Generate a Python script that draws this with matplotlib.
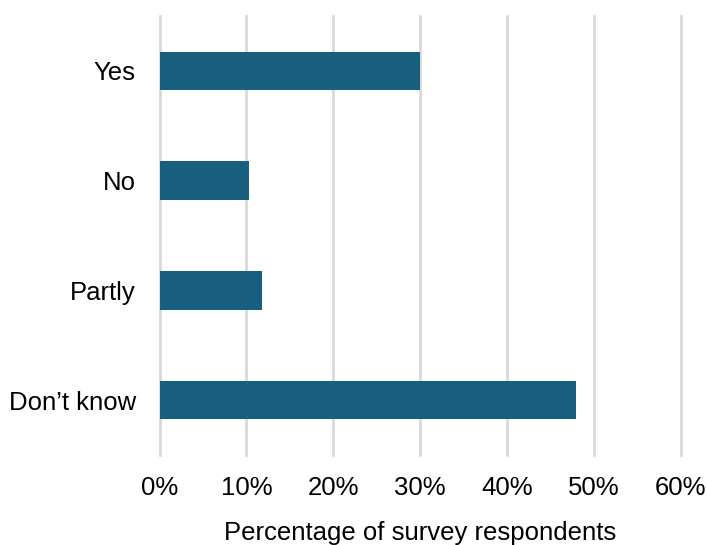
import matplotlib
matplotlib.use("Agg")
import matplotlib.pyplot as plt
from matplotlib.ticker import FuncFormatter

plt.rcParams['font.family'] = ['Liberation Sans', 'DejaVu Sans']

categories = ["Yes", "No", "Partly", "Don\u2019t know"]
values = [30.0, 10.3, 11.8, 48.0]
xticks = [0, 10, 20, 30, 40, 50, 60]
bar_color = "#175E7F"

fig = plt.figure(figsize=(7.07, 5.45), dpi=100)
ax = fig.add_axes([159.5/707, 1-455/545, (680.7-159.5)/707, (455-16)/545])

ypos = list(range(len(categories)))
ax.barh(ypos, values, height=0.35, color=bar_color, zorder=3)
ax.set_yticks(ypos)
ax.set_yticklabels(categories)
ax.set_ylim(len(categories)-0.5, -0.5)
ax.set_xlim(0, 60)
ax.set_xticks(xticks)
ax.xaxis.set_major_formatter(FuncFormatter(lambda v, p: f"{v:.0f}%"))
ax.grid(axis='x', color='#D9D9D9', linewidth=2, zorder=0)
ax.grid(axis='y', visible=False)
for ln in ax.get_xgridlines():
    ln.set_clip_on(False)
for s in ax.spines.values():
    s.set_visible(False)
ax.tick_params(axis='both', length=0, labelsize=18.5, colors='black')
ax.tick_params(axis='y', pad=17)
ax.tick_params(axis='x', pad=15)
ax.set_xlabel("Percentage of survey respondents", fontsize=18.5, labelpad=15)

fig.savefig("out.png", dpi=100)
